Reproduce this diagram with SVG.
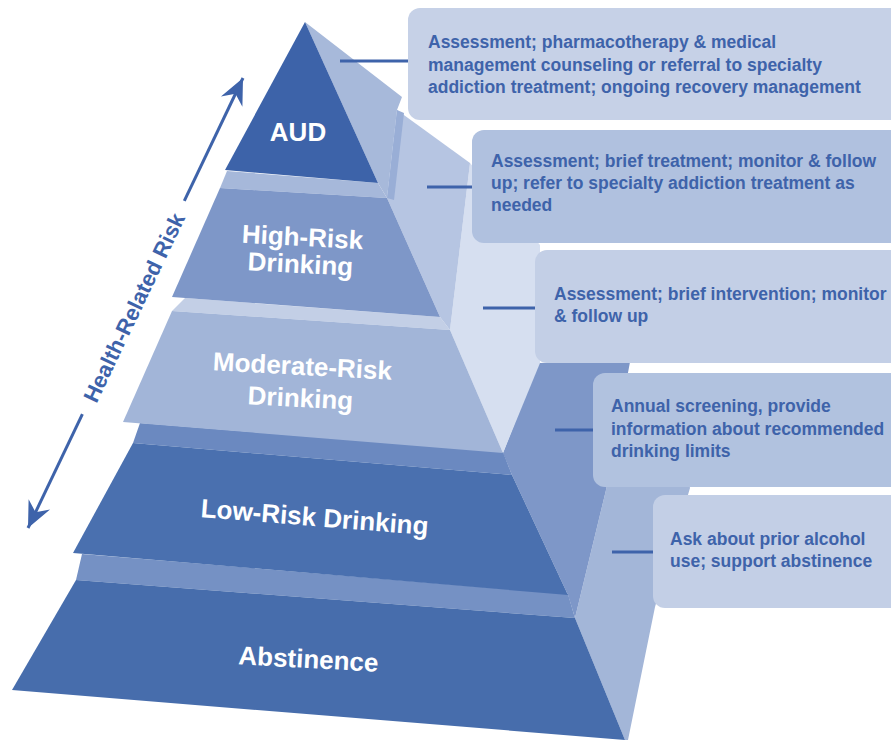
<svg xmlns="http://www.w3.org/2000/svg" width="891" height="740" viewBox="0 0 891 740">
<defs>
<style>
.lbl{font-family:"Liberation Sans",Arial,sans-serif;font-weight:bold;fill:#ffffff;font-size:26px;text-anchor:middle}
.bt{font-family:"Liberation Sans",Arial,sans-serif;font-weight:bold;fill:#3e63aa;font-size:17.5px}
.ax{font-family:"Liberation Sans",Arial,sans-serif;font-weight:bold;fill:#3e63aa;font-size:22px;text-anchor:middle}
.con{stroke:#3e63aa;stroke-width:3;fill:none}
</style>
<marker id="ah" markerUnits="userSpaceOnUse" markerWidth="30" markerHeight="30" viewBox="-22 -11 24 22" refX="0" refY="0" orient="auto">
<path d="M0,0 L-21,-9.5 L-14,0 L-21,9.5 Z" fill="#3e63aa"/>
</marker>
</defs>
<rect width="891" height="740" fill="#ffffff"/>

<g id="tier-abstinence">
<polygon points="575,618 606,490 615,440 680,440 690,488 655,607 628,740 625,740" fill="#a3b6d8"/>
<polygon points="82,554 568,594 575,618 76,580" fill="#7591c4"/>
<polygon points="76,580 575,618 625,740 12,690" fill="#476dac"/>
<text class="lbl" x="308" y="668" transform="rotate(3 308 668)">Abstinence</text>
</g>

<g id="tier-low-risk">
<polygon points="503,453 538,363 630,362 606,490 575,618 568,595 512,475" fill="#7e97c8"/>
<polygon points="140,423 503,452 512,475 133,443" fill="#6b89c0"/>
<polygon points="133,443 512,475 568,595 73,553" fill="#4a70af"/>
<text class="lbl" x="314" y="526" transform="rotate(4.5 314 526)">Low-Risk Drinking</text>
</g>

<g id="tier-moderate-risk">
<polygon points="450,330 470,163 540,245 540,363 503,453" fill="#d6dff0"/>
<polygon points="185,298 440,317 450,330 172,311" fill="#c3cfe6"/>
<polygon points="172,311 450,330 503,453 123,422" fill="#a2b5d8"/>
<text class="lbl" x="302" y="375" transform="rotate(3 302 375)">Moderate-Risk</text>
<text class="lbl" x="300" y="407" transform="rotate(3 300 407)">Drinking</text>
</g>

<g id="tier-high-risk">
<polygon points="305,22 402,97 397,110 387,198 378,183" fill="#a7b9da"/>
<polygon points="387,198 397,110 470,163 450,330 440,317" fill="#b6c5e2"/>
<polygon points="387,198 397,110 404,113 394,200" fill="#99aed6"/>
<polygon points="227,171 378,183 387,198 220,188" fill="#a6b8da"/>
<polygon points="220,188 387,198 440,317 172,297" fill="#7e97c8"/>
<text class="lbl" x="302" y="246" transform="rotate(3 302 246)">High-Risk</text>
<text class="lbl" x="300" y="273" transform="rotate(3 300 273)">Drinking</text>
</g>

<g id="tier-aud">
<polygon points="305,22 378,183 225,170" fill="#3d63a9"/>
<text class="lbl" x="298" y="141">AUD</text>
</g>

<g id="axis-health-related-risk">
<line class="con" x1="184.3" y1="200.85" x2="243" y2="78" marker-end="url(#ah)"/>
<line class="con" x1="82.4" y1="414.2" x2="28" y2="528" marker-end="url(#ah)"/>
<text class="ax" x="134" y="307.5" dy="0.35em" transform="rotate(-64.46 134 307.5)">Health-Related Risk</text>
</g>

<g id="box-aud">
<rect x="408" y="8" width="500" height="112" rx="12" fill="#c6d1e7"/>
<text class="bt" x="428" y="48">Assessment; pharmacotherapy &amp; medical</text>
<text class="bt" x="428" y="70.5">management counseling or referral to specialty</text>
<text class="bt" x="428" y="93">addiction treatment; ongoing recovery management</text>
</g>

<g id="box-high-risk">
<rect x="472" y="130" width="440" height="113" rx="12" fill="#b0c1df"/>
<text class="bt" x="491" y="167">Assessment; brief treatment; monitor &amp; follow</text>
<text class="bt" x="491" y="189">up; refer to specialty addiction treatment as</text>
<text class="bt" x="491" y="211">needed</text>
</g>

<g id="box-moderate-risk">
<rect x="535" y="250" width="380" height="113" rx="12" fill="#c3cfe6"/>
<text class="bt" x="554" y="300">Assessment; brief intervention; monitor</text>
<text class="bt" x="554" y="322">&amp; follow up</text>
</g>

<g id="box-low-risk">
<rect x="593" y="373" width="320" height="114" rx="12" fill="#b1c2df"/>
<text class="bt" x="611" y="412">Annual screening, provide</text>
<text class="bt" x="611" y="434.5">information about recommended</text>
<text class="bt" x="611" y="457">drinking limits</text>
</g>

<g id="box-abstinence">
<rect x="653" y="495" width="260" height="113" rx="12" fill="#c3cfe6"/>
<text class="bt" x="670" y="545">Ask about prior alcohol</text>
<text class="bt" x="670" y="567">use; support abstinence</text>
</g>

<g id="connectors">
<line class="con" x1="340" y1="61" x2="408" y2="61"/>
<line class="con" x1="427" y1="187" x2="472" y2="187"/>
<line class="con" x1="483" y1="308" x2="535" y2="308"/>
<line class="con" x1="555" y1="430" x2="593" y2="430"/>
<line class="con" x1="612" y1="552" x2="653" y2="552"/>
</g>
</svg>
